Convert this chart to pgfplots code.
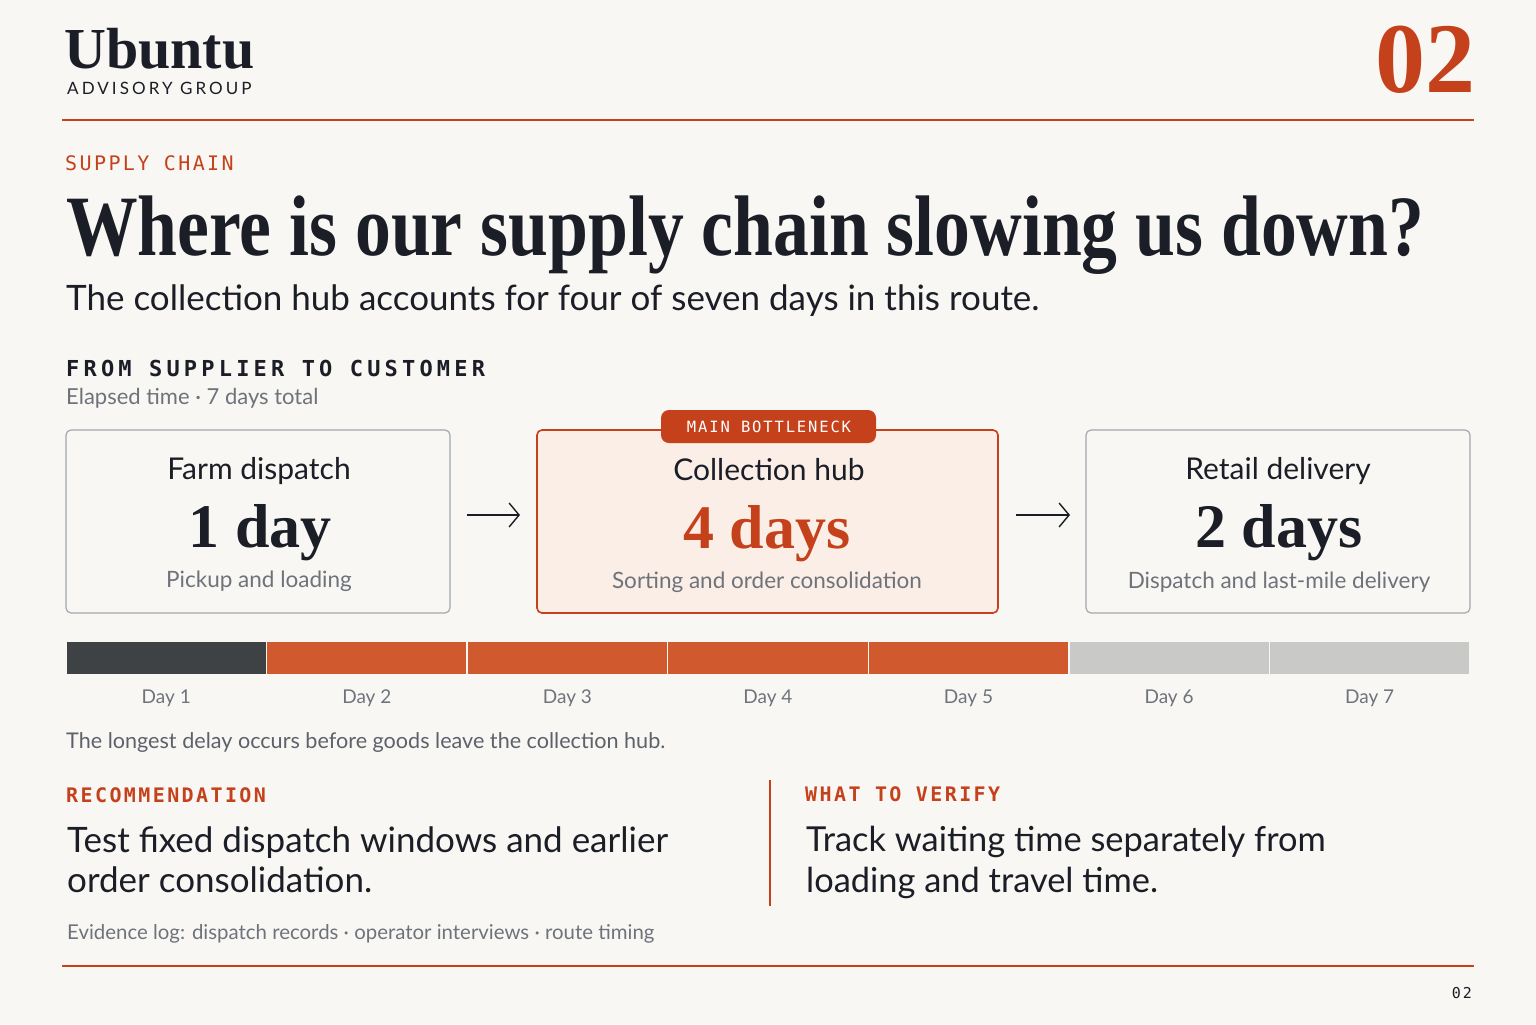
\documentclass[border=0pt]{standalone}
\usepackage{fontspec}
\usepackage{pgfplots}
\pgfplotsset{compat=1.18}
\usetikzlibrary{arrows.meta}

\setmainfont{Lato}
\newfontfamily\serif[FakeStretch=0.833]{Liberation Serif}
\newfontfamily\logo{Liberation Serif}
\newfontfamily\mono[LetterSpace=12]{DejaVu Sans Mono}
\newfontfamily\widemono[LetterSpace=19]{DejaVu Sans Mono}
\newfontfamily\spaced[LetterSpace=18]{Lato}

\definecolor{bg}{HTML}{F8F7F3}
\definecolor{ink}{HTML}{1B1E26}
\definecolor{rust}{HTML}{C5411B}
\definecolor{barorange}{HTML}{D05A2E}
\definecolor{bardark}{HTML}{3F4244}
\definecolor{barlight}{HTML}{C9C9C7}
\definecolor{muted}{HTML}{6E737B}
\definecolor{boxline}{HTML}{A3A8AF}
\definecolor{hotfill}{HTML}{FAEEE6}

\newcommand{\fs}[1]{\fontsize{#1bp}{#1bp}\selectfont}

\begin{document}
\begin{tikzpicture}[x=1bp,y=-1bp]
\useasboundingbox (0,0) rectangle (1536,1024);
\fill[bg] (0,0) rectangle (1536,1024);

% header
\node[anchor=base west,inner sep=0,text=ink] at (64,68) {\logo\bfseries\fs{58}Ubuntu};
\node[anchor=base west,inner sep=0,text=ink] at (67,94) {\spaced\fs{17}ADVISORY GROUP};
\node[anchor=base east,inner sep=0,text=rust] at (1476,92) {\logo\bfseries\fs{100}02};
\draw[rust,line width=1.3bp] (62,120) -- (1474,120);

% title block
\node[anchor=base west,inner sep=0,text=rust] at (65,170) {\mono\fs{20}SUPPLY CHAIN};
\node[anchor=base west,inner sep=0,text=ink] at (66,255) {\serif\bfseries\fs{86}Where is our supply chain slowing us down?};
\node[anchor=base west,inner sep=0,text=ink] at (66,310) {\fs{35}The collection hub accounts for four of seven days in this route.};

\node[anchor=base west,inner sep=0,text=ink] at (66,376) {\widemono\bfseries\fs{22}FROM SUPPLIER TO CUSTOMER};
\node[anchor=base west,inner sep=0,text=muted] at (66,404) {\fs{22}Elapsed time · 7 days total};

% stage boxes
\draw[boxline,line width=1.2bp,rounded corners=5bp] (66,430) rectangle (450,613);
\draw[rust,line width=1.6bp,fill=hotfill,rounded corners=5bp] (537,430) rectangle (998,613);
\draw[boxline,line width=1.2bp,rounded corners=5bp] (1086,430) rectangle (1470,613);
\fill[rust,rounded corners=8bp] (661,410) rectangle (876,443);
\node[anchor=base,inner sep=0,text=white] at (769,432) {\mono\fs{15.5}MAIN BOTTLENECK};

\draw[ink,line width=1.4bp,-{Straight Barb[length=10bp,width=24bp]}] (467,515) -- (520,515);
\draw[ink,line width=1.4bp,-{Straight Barb[length=10bp,width=24bp]}] (1016,515) -- (1070,515);

\node[anchor=base,inner sep=0,text=ink] at (259,479) {\fs{30}Farm dispatch};
\node[anchor=base,inner sep=0,text=ink] at (260,547) {\logo\bfseries\fs{62}1 day};
\node[anchor=base,inner sep=0,text=muted] at (259,587) {\fs{22.5}Pickup and loading};

\node[anchor=base,inner sep=0,text=ink] at (769,480) {\fs{30}Collection hub};
\node[anchor=base,inner sep=0,text=rust] at (767,548) {\logo\bfseries\fs{62}4 days};
\node[anchor=base,inner sep=0,text=muted] at (767,588) {\fs{22.5}Sorting and order consolidation};

\node[anchor=base,inner sep=0,text=ink] at (1278,479) {\fs{30}Retail delivery};
\node[anchor=base,inner sep=0,text=ink] at (1279,547) {\logo\bfseries\fs{62}2 days};
\node[anchor=base,inner sep=0,text=muted] at (1279,588) {\fs{22.5}Dispatch and last-mile delivery};

% day timeline
\begin{axis}[
  at={(66bp,-675bp)}, anchor=south west,
  scale only axis, width=1404bp, height=34bp,
  xbar stacked, bar width=34bp,
  xmin=0, xmax=7, ymin=-0.5, ymax=0.5,
  enlargelimits=false, clip=false,
  axis line style={draw=none}, tick style={draw=none},
  ytick=\empty,
  xtick={0.5,1.5,2.5,3.5,4.5,5.5,6.5},
  xticklabels={Day 1,Day 2,Day 3,Day 4,Day 5,Day 6,Day 7},
  xticklabel style={anchor=base, yshift=-28bp, text=muted, font=\fs{19}},
  every axis plot/.append style={draw=bg, line width=1.5bp},
]
\addplot[fill=bardark] coordinates {(1,0)};
\addplot[fill=barorange] coordinates {(1,0)};
\addplot[fill=barorange] coordinates {(1,0)};
\addplot[fill=barorange] coordinates {(1,0)};
\addplot[fill=barorange] coordinates {(1,0)};
\addplot[fill=barlight] coordinates {(1,0)};
\addplot[fill=barlight] coordinates {(1,0)};
\end{axis}

\node[anchor=base west,inner sep=0,text=muted!80!ink] at (66,748) {\fs{21.6}The longest delay occurs before goods leave the collection hub.};

% recommendation columns
\node[anchor=base west,inner sep=0,text=rust] at (66,802) {\mono\bfseries\fs{20}RECOMMENDATION};
\node[anchor=base west,inner sep=0,text=ink] at (67,852) {\fs{35}Test fixed dispatch windows and earlier};
\node[anchor=base west,inner sep=0,text=ink] at (67,892) {\fs{35}order consolidation.};

\draw[rust,line width=1.2bp] (770,780) -- (770,906);
\node[anchor=base west,inner sep=0,text=rust] at (805,801) {\mono\bfseries\fs{20}WHAT TO VERIFY};
\node[anchor=base west,inner sep=0,text=ink] at (806,851) {\fs{34.4}Track waiting time separately from};
\node[anchor=base west,inner sep=0,text=ink] at (806,892) {\fs{34.4}loading and travel time.};

\node[anchor=base west,inner sep=0,text=muted] at (67,939) {\fs{20.4}Evidence log: dispatch records · operator interviews · route timing};

\draw[rust,line width=1.3bp] (62,966) -- (1474,966);
\node[anchor=base east,inner sep=0,text=ink] at (1472,998) {\mono\fs{15}02};
\end{tikzpicture}
\end{document}
